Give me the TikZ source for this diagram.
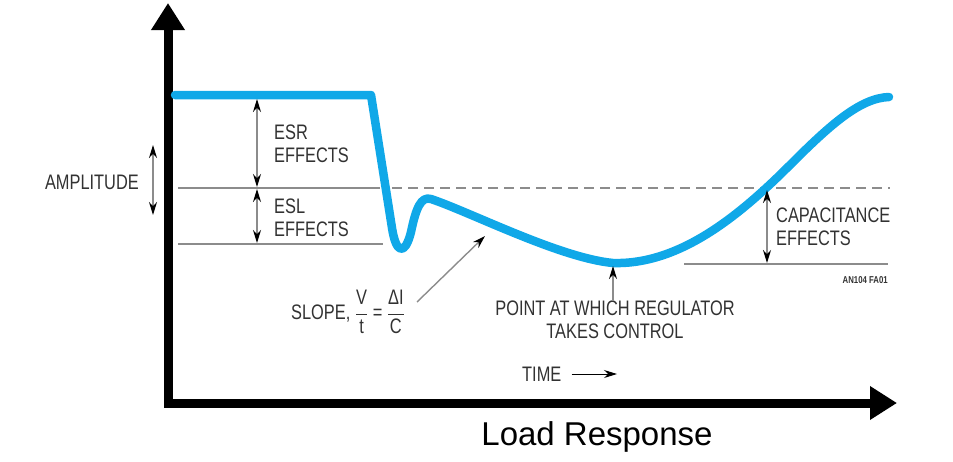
\documentclass[tikz,border=0pt]{standalone}
\usepackage{fontspec}
\setmainfont{Liberation Sans}
\newfontfamily\condfont[FakeStretch=0.78]{Liberation Sans}
\usetikzlibrary{arrows.meta}
\definecolor{curveblue}{RGB}{16,168,232}
\definecolor{guidegray}{RGB}{140,140,140}
\definecolor{labelgray}{RGB}{50,50,50}

\begin{document}
\begin{tikzpicture}[
    x=1pt, y=-1pt,
    axis/.style={line width=9, -{Triangle[length=27pt, width=32pt]}},
    response/.style={line width=8.5, curveblue, line join=round, line cap=round},
    guide/.style={guidegray, line width=1.4},
    dimarrow/.style={guide, {Stealth[length=13pt, width=8pt, black]}-{Stealth[length=13pt, width=8pt, black]}},
    pointer/.style={guide, -{Stealth[length=13pt, width=8pt, black]}},
    label/.style={font=\condfont\fontsize{21}{22.5}\selectfont, text=labelgray, inner sep=0, align=left},
    small/.style={font=\condfont\bfseries\fontsize{10}{11}\selectfont, text=labelgray, inner sep=0}
]
\useasboundingbox (0,0) rectangle (953,461);

% Axes
\coordinate (origin) at (168,403);
\coordinate (ytip)   at (168,3);
\coordinate (xtip)   at (897,403);
\draw[axis] (168,407) -- (ytip);
\draw[axis] (164,403) -- (xtip);

% Reference levels
\coordinate (lvl1a) at (178,188);
\coordinate (lvl1b) at (380,188);
\coordinate (lvl1c) at (392,188);
\coordinate (lvl1d) at (890,188);
\coordinate (lvl2a) at (178,244);
\coordinate (lvl2b) at (383,244);
\coordinate (lvl3a) at (684,264);
\coordinate (lvl3b) at (888,264);
\draw[guide] (lvl1a) -- (lvl1b);
\draw[guide, dash pattern=on 10pt off 6pt] (lvl1c) -- (lvl1d);
\draw[guide] (lvl2a) -- (lvl2b);
\draw[guide] (lvl3a) -- (lvl3b);

% Load response curve
\draw[response] (175,95) -- (371,95) -- (392,228)
    .. controls (396,254) and (405,256) .. (411,232)
    .. controls (416,208) and (421,196) .. (431,199)
    .. controls (470,212) and (560,258) .. (613,263)
    .. controls (680,265) and (740,215) .. (790,165)
    .. controls (830,125) and (860,98) .. (889,97);

% ESR / ESL dimensions
\coordinate (esrtop) at (257,99);
\coordinate (esrbot) at (257,187);
\coordinate (esltop) at (257,189);
\coordinate (eslbot) at (257,243);
\draw[dimarrow] (esrtop) -- (esrbot);
\draw[dimarrow] (esltop) -- (eslbot);
\node[label, anchor=west] (esr) at (274,144) {ESR\\EFFECTS};
\node[label, anchor=west] (esl) at (274,218) {ESL\\EFFECTS};

% Amplitude
\coordinate (amptop) at (153,145);
\coordinate (ampbot) at (153,215);
\draw[dimarrow] (amptop) -- (ampbot);
\node[label, anchor=east] (amp) at (139,182) {AMPLITUDE};

% Capacitance effects
\coordinate (captop) at (767,190);
\coordinate (capbot) at (767,263);
\draw[dimarrow] (captop) -- (capbot);
\node[label, anchor=west] (cap) at (776,227) {CAPACITANCE\\EFFECTS};
\node[small, anchor=east] (fig) at (888,280) {AN104 FA01};

% Regulator point
\node[label, align=center, anchor=north] (reg) at (615,301) {POINT AT WHICH REGULATOR\\TAKES CONTROL};
\coordinate (regtip) at (613,266);
\draw[pointer] (reg.north -| regtip) -- (regtip);

% Slope
\node[label, anchor=west] (slope) at (291,312)
    {SLOPE, $\displaystyle\frac{\mbox{V}}{\mbox{t}}$ = $\displaystyle\frac{\mbox{ΔI}}{\mbox{C}}$};
\coordinate (slopetip) at (485,236);
\draw[pointer] (slope.east) ++(12,-10) coordinate (slopefoot) (slopefoot) -- (slopetip);

% Time
\node[label, anchor=west] (time) at (522,374) {TIME};
\coordinate (timetip) at (617,374);
\draw[pointer, black, line width=1] (time.east) ++(10,0) coordinate (timefoot) (timefoot) -- (timetip);

% Title
\node[font=\fontsize{33}{36}\selectfont, inner sep=0] (title) at (597,437) {Load Response};

\end{tikzpicture}
\end{document}
